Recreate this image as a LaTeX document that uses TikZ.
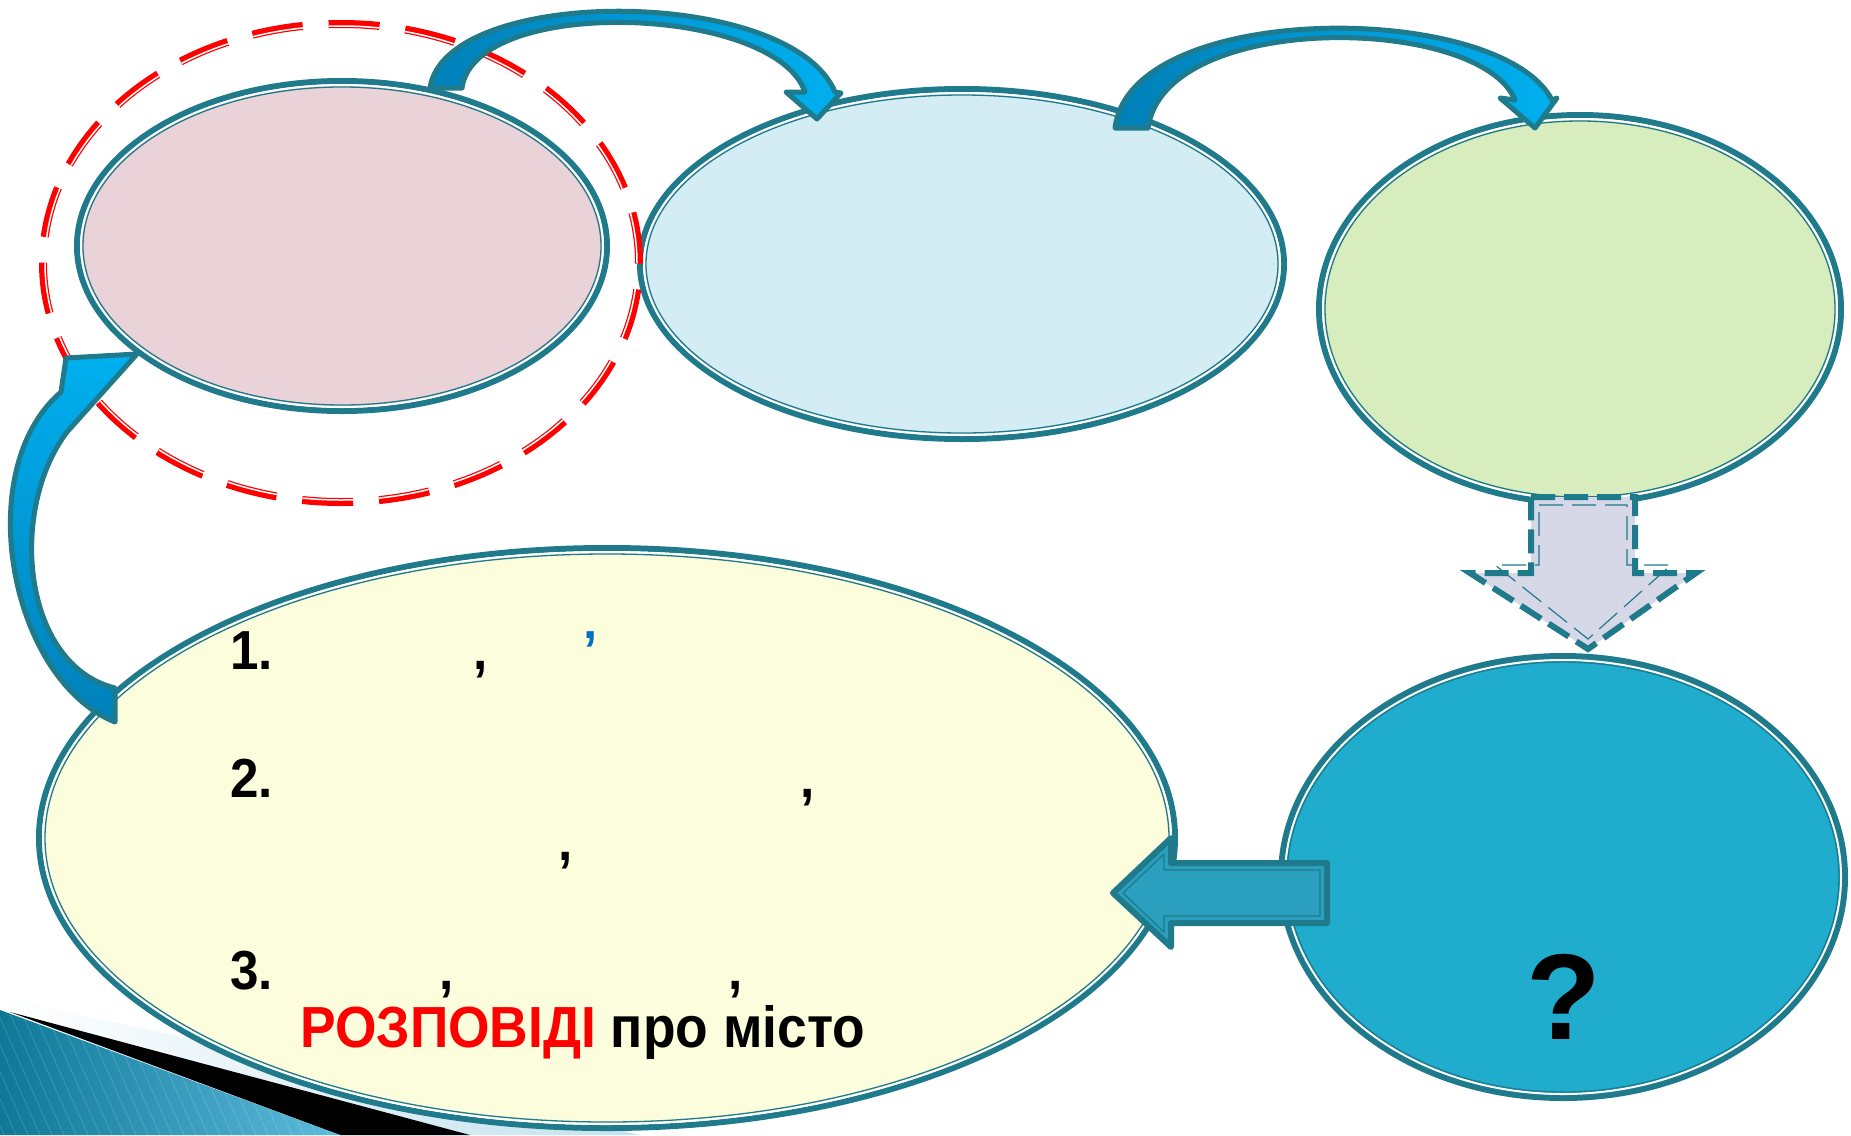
\documentclass[tikz,border=0pt]{standalone}
\usepackage{fontspec}
\setmainfont{Liberation Sans}
\newfontfamily\condf[FakeStretch=0.93]{Liberation Sans}
\newfontfamily\storyf[FakeStretch=0.92]{Liberation Sans}
\usetikzlibrary{shapes.geometric}
\definecolor{tealc}{RGB}{31,122,140}
\definecolor{pinkc}{RGB}{233,211,216}
\definecolor{lblue}{RGB}{212,237,244}
\definecolor{lgreen}{RGB}{215,237,190}
\definecolor{lyellow}{RGB}{252,253,220}
\definecolor{tealfill}{RGB}{31,172,205}
\definecolor{arrA}{RGB}{0,128,185}
\definecolor{arrB}{RGB}{0,176,240}
\definecolor{larrow}{RGB}{42,160,190}
\definecolor{lav}{RGB}{214,216,232}
\definecolor{decoA}{RGB}{14,120,150}
\definecolor{decoB}{RGB}{95,188,222}
\definecolor{fadeB}{RGB}{195,226,238}
\definecolor{qblue}{RGB}{0,112,192}
\newcommand{\ellnode}[6]{%
  \node[ellb, fill=#6, minimum width={(2*#4-6)*1pt}, minimum height={(2*#5-6)*1pt}] (#1) at (#2,#3) {};
  \draw[white, line width=2pt] (#1.center) ellipse [x radius={(#4-7)*1pt}, y radius={(#5-7)*1pt}];
  \draw[tealc, line width=1.3pt] (#1.center) ellipse [x radius={(#4-9)*1pt}, y radius={(#5-9)*1pt}];
}
\begin{document}
\begin{tikzpicture}[x=1pt,y=-1pt,
  ellb/.style={ellipse, draw=tealc, line width=6pt, inner sep=0pt},
  band/.style={draw=tealc, line width=5pt, line join=round},
  txt/.style={inner sep=0pt, anchor=base west, font=\condf\bfseries\fontsize{55}{60}\selectfont},
]
\useasboundingbox (0,0) rectangle (1851,1135);
\fill[white] (0,0) rectangle (1851,1135);

% bottom-left decoration
\shade[left color=white, right color=fadeB] (0,998) -- (640,1135) -- (0,1135) -- cycle;
\fill[black] (10,1012) -- (470,1135) -- (340,1135) -- cycle;
\begin{scope}
  \clip (0,1010) -- (340,1135) -- (0,1135) -- cycle;
  \shade[left color=decoA, right color=decoB] (0,1000) rectangle (345,1135);
  \foreach \s in {-200,-188,...,400} \draw[white, opacity=.13, line width=1pt] (\s,1000) -- (\s+60,1135);
\end{scope}

% ellipses
\ellnode{yel}{607}{838}{571}{293}{lyellow}
\ellnode{pnk}{342}{246}{268}{168}{pinkc}
\ellnode{blu}{962}{264}{325}{178}{lblue}
\ellnode{grn}{1580}{309}{264}{197}{lgreen}
\ellnode{tea}{1563}{877}{285}{224}{tealfill}

% red dashed highlight
\coordinate (hl) at (341,263);
\draw[red, line width=8pt, dash pattern=on 51pt off 25.9pt] (hl) ellipse [x radius=298pt, y radius=239pt];
\draw[white, line width=1.5pt, dash pattern=on 50.63pt off 25.71pt] (hl) ellipse [x radius=296pt, y radius=237pt];

% down block arrow (dashed)
\path[draw=tealc, line width=6pt, dash pattern=on 24pt off 9pt, fill=lav]
  (1531,497) -- (1635,497) -- (1635,573) -- (1696,573) -- (1588,649) -- (1470,573) -- (1531,573) -- cycle;
\draw[tealc, line width=1.2pt, dash pattern=on 24pt off 9pt]
  (1539,505) -- (1627,505) -- (1627,565) -- (1671,565) -- (1588,639) -- (1495,565) -- (1539,565) -- cycle;

% left block arrow
\path[draw=tealc, line width=6pt, line join=round, fill=larrow]
  (1327,863) -- (1171,863) -- (1171,838) -- (1113,893) -- (1171,947) -- (1171,923) -- (1327,923) -- cycle;
\draw[tealc, line width=1.3pt, line join=round]
  (1320,870) -- (1164,870) -- (1164,854) -- (1123,893) -- (1164,932) -- (1164,916) -- (1320,916) -- cycle;

% curved arrows
\path[band, left color=arrA, right color=arrB]
  (430,88) .. controls (445,-15) and (790,-15) .. (835,92) -- (841,93) -- (817,119) -- (786,92) -- (805,92)
  .. controls (775,5) and (475,-5) .. (462,88) -- cycle;
\path[band, left color=arrA, right color=arrB]
  (1115,128) .. controls (1130,0) and (1500,0) .. (1552,100) -- (1557,98) -- (1535,128) -- (1500,98) -- (1515,100)
  .. controls (1480,15) and (1165,10) .. (1148,128) -- cycle;
\path[band, top color=arrB, bottom color=arrA]
  (115,722) .. controls (10,680) and (-30,470) .. (61,392) -- (66,358) -- (137,354) -- (67,432)
  .. controls (8,510) and (22,665) .. (115,688) -- cycle;

% texts
\node[txt] (n1) at (230,669) {1.};
\node[txt] (c11) at (473,669) {,};
\node[txt, text=qblue] (c12) at (583,669) {’};
\node[txt] (n2) at (230,797) {2.};
\node[txt] (c21) at (800,797) {,};
\node[txt] (c22) at (558,860) {,};
\node[txt] (n3) at (230,989) {3.};
\node[txt] (c31) at (439,989) {,};
\node[txt] (c32) at (728,989) {,};
\node[inner sep=0pt, anchor=base west, font=\storyf\bfseries\fontsize{58}{62}\selectfont] (story) at (300,1047) {\textcolor{red}{РОЗПОВІДІ} про місто};
\node[inner sep=0pt, anchor=base, font=\bfseries\fontsize{122}{130}\selectfont] (q) at (1564,1039) {?};
\end{tikzpicture}
\end{document}
